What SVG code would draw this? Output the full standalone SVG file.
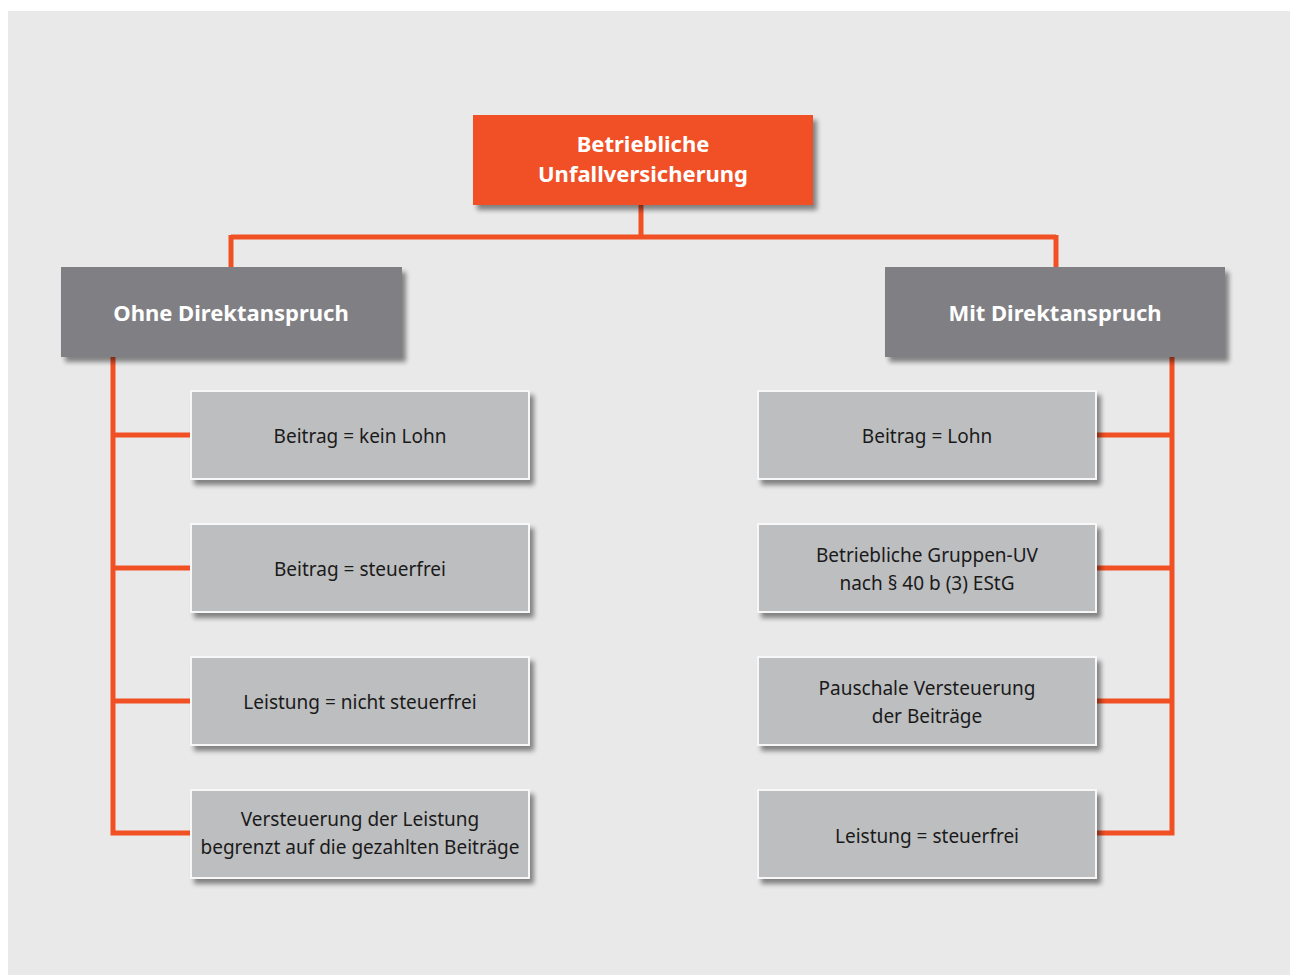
<svg xmlns="http://www.w3.org/2000/svg" width="1290" height="975" viewBox="0 0 1290 975">
<defs>
<filter id="sh" x="-10%" y="-10%" width="130%" height="140%">
<feGaussianBlur in="SourceAlpha" stdDeviation="2.5"/>
<feOffset dx="4" dy="5" result="b"/>
<feComponentTransfer><feFuncA type="linear" slope="0.45"/></feComponentTransfer>
<feMerge><feMergeNode/><feMergeNode in="SourceGraphic"/></feMerge>
</filter>
<style>
.main{fill:#f15025;filter:url(#sh)}
.cat{fill:#808084;filter:url(#sh)}
.item{fill:#bdbec0;stroke:#f7f7f7;stroke-width:2;filter:url(#sh)}
.tb{font-family:"Noto Sans","Liberation Sans",sans-serif;font-weight:bold;fill:#ffffff;text-anchor:middle}
.t{font-family:"Noto Sans","Liberation Sans",sans-serif;font-size:19px;fill:#1a1a1a;text-anchor:middle}
.c{stroke:#f15025;stroke-width:5;fill:none}
</style>
</defs>
<rect x="0" y="0" width="1290" height="975" fill="#ffffff"/>
<rect x="8" y="11" width="1282" height="964" fill="#e9e9e9"/>
<g id="connectors">
<path class="c" d="M641 205 V237 M231 237 H1056 M231 235 V267 M1056 235 V267"/>
<path class="c" d="M113 357 V833 M113 435 H191 M113 568 H191 M113 701 H191 M110.5 833 H191"/>
<path class="c" d="M1172 357 V833 M1096 435 H1172 M1096 568 H1172 M1096 701 H1172 M1096 833 H1174.5"/>
</g>
<g id="root">
<rect class="main" x="473" y="115" width="340" height="90"/>
<text class="tb" font-size="22" x="643" y="152">Betriebliche</text>
<text class="tb" font-size="22" x="643" y="182">Unfallversicherung</text>
</g>
<g id="ohne">
<rect class="cat" x="61" y="267" width="341" height="90"/>
<text class="tb" font-size="22" x="231" y="321">Ohne Direktanspruch</text>
</g>
<g id="mit">
<rect class="cat" x="885" y="267" width="340" height="90"/>
<text class="tb" font-size="22" x="1055" y="321">Mit Direktanspruch</text>
</g>
<g id="l1">
<rect class="item" x="191" y="391" width="338" height="88"/>
<text class="t" x="360" y="443">Beitrag = kein Lohn</text>
</g>
<g id="l2">
<rect class="item" x="191" y="524" width="338" height="88"/>
<text class="t" x="360" y="576">Beitrag = steuerfrei</text>
</g>
<g id="l3">
<rect class="item" x="191" y="657" width="338" height="88"/>
<text class="t" x="360" y="709">Leistung = nicht steuerfrei</text>
</g>
<g id="l4">
<rect class="item" x="191" y="790" width="338" height="88"/>
<text class="t" x="360" y="826">Versteuerung der Leistung</text>
<text class="t" x="360" y="854">begrenzt auf die gezahlten Beiträge</text>
</g>
<g id="r1">
<rect class="item" x="758" y="391" width="338" height="88"/>
<text class="t" x="927" y="443">Beitrag = Lohn</text>
</g>
<g id="r2">
<rect class="item" x="758" y="524" width="338" height="88"/>
<text class="t" x="927" y="562">Betriebliche Gruppen-UV</text>
<text class="t" x="927" y="590">nach § 40 b (3) EStG</text>
</g>
<g id="r3">
<rect class="item" x="758" y="657" width="338" height="88"/>
<text class="t" x="927" y="695">Pauschale Versteuerung</text>
<text class="t" x="927" y="723">der Beiträge</text>
</g>
<g id="r4">
<rect class="item" x="758" y="790" width="338" height="88"/>
<text class="t" x="927" y="843">Leistung = steuerfrei</text>
</g>
</svg>
